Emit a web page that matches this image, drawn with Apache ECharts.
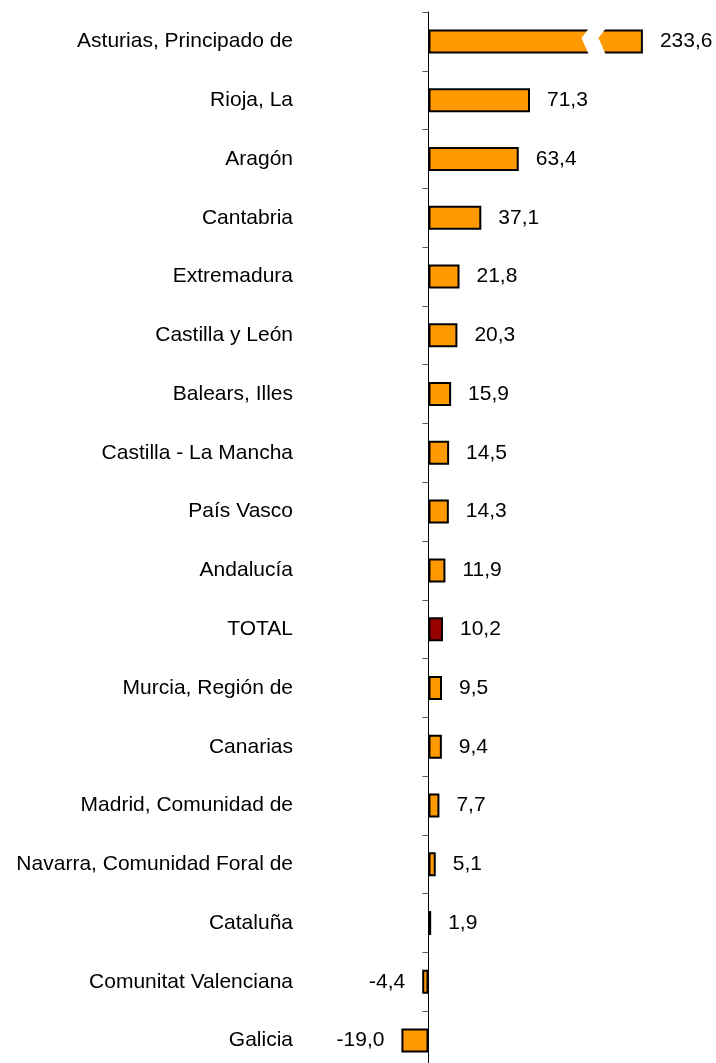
<!DOCTYPE html>
<html>
<head>
<meta charset="utf-8">
<style>
html, body { margin: 0; padding: 0; background: #fff; }
#chart { width: 716px; height: 1063px; }
</style>
</head>
<body>
<div id="chart"></div>
<script src="https://cdn.jsdelivr.net/npm/echarts@6/dist/echarts.min.js"></script>
<script>
var regions = ['Asturias, Principado de', 'Rioja, La', 'Aragón', 'Cantabria', 'Extremadura',
    'Castilla y León', 'Balears, Illes', 'Castilla - La Mancha', 'País Vasco', 'Andalucía',
    'TOTAL', 'Murcia, Región de', 'Canarias', 'Madrid, Comunidad de',
    'Navarra, Comunidad Foral de', 'Cataluña', 'Comunitat Valenciana', 'Galicia'];
var values = [233.6, 71.3, 63.4, 37.1, 21.8, 20.3, 15.9, 14.5, 14.3, 11.9,
    10.2, 9.5, 9.4, 7.7, 5.1, 1.9, -4.4, -19.0];
// tramo del eje que se corta (barra de Asturias)
var axisBreak = { start: 110, end: 205, gap: 12 };

var myChart = echarts.init(document.getElementById('chart'));

var barData = values.map(function (v, i) {
    return {
        value: v,
        itemStyle: { color: regions[i] == 'TOTAL' ? '#990000' : '#FF9900' }
    };
});
var labelData = values.map(function (v) {
    return { value: v, label: { position: v < 0 ? 'left' : 'right' } };
});

var option = {
    animation: false,
    textStyle: { fontFamily: 'Liberation Sans, Arial, sans-serif' },
    grid: { left: 400, right: 64, top: 12, height: 1058, outerBoundsMode: 'none' },
    xAxis: {
        type: 'value',
        min: -20,
        max: 240,
        breaks: [axisBreak],
        breakArea: {
            show: true,
            itemStyle: { color: '#fff', borderWidth: 0, opacity: 1 },
            zigzagAmplitude: 4,
            zigzagZ: 100,
            expandOnClick: false
        },
        axisLine: { show: false },
        axisTick: { show: false },
        axisLabel: { show: false },
        splitLine: { show: false }
    },
    yAxis: {
        type: 'category',
        inverse: true,
        data: regions,
        axisLine: { show: true, onZero: true, lineStyle: { color: '#000', width: 1 } },
        axisTick: { show: true, length: 6, lineStyle: { color: '#555' } },
        axisLabel: { margin: 107, fontSize: 21, color: '#000' }
    },
    series: [{
        type: 'bar',
        data: barData,
        barWidth: 24,
        z: 2,
        itemStyle: { borderColor: '#000', borderWidth: 2 }
    }, {
        // solo etiquetas, por encima del corte
        type: 'bar',
        data: labelData,
        barWidth: 24,
        barGap: '-100%',
        z: 200,
        silent: true,
        itemStyle: { color: 'rgba(0,0,0,0)' },
        label: {
            show: true,
            distance: 17,
            fontSize: 21,
            color: '#000',
            formatter: function (p) {
                return p.value.toFixed(1).replace('.', ',');
            }
        }
    }]
};
myChart.setOption(option);
</script>
</body>
</html>
